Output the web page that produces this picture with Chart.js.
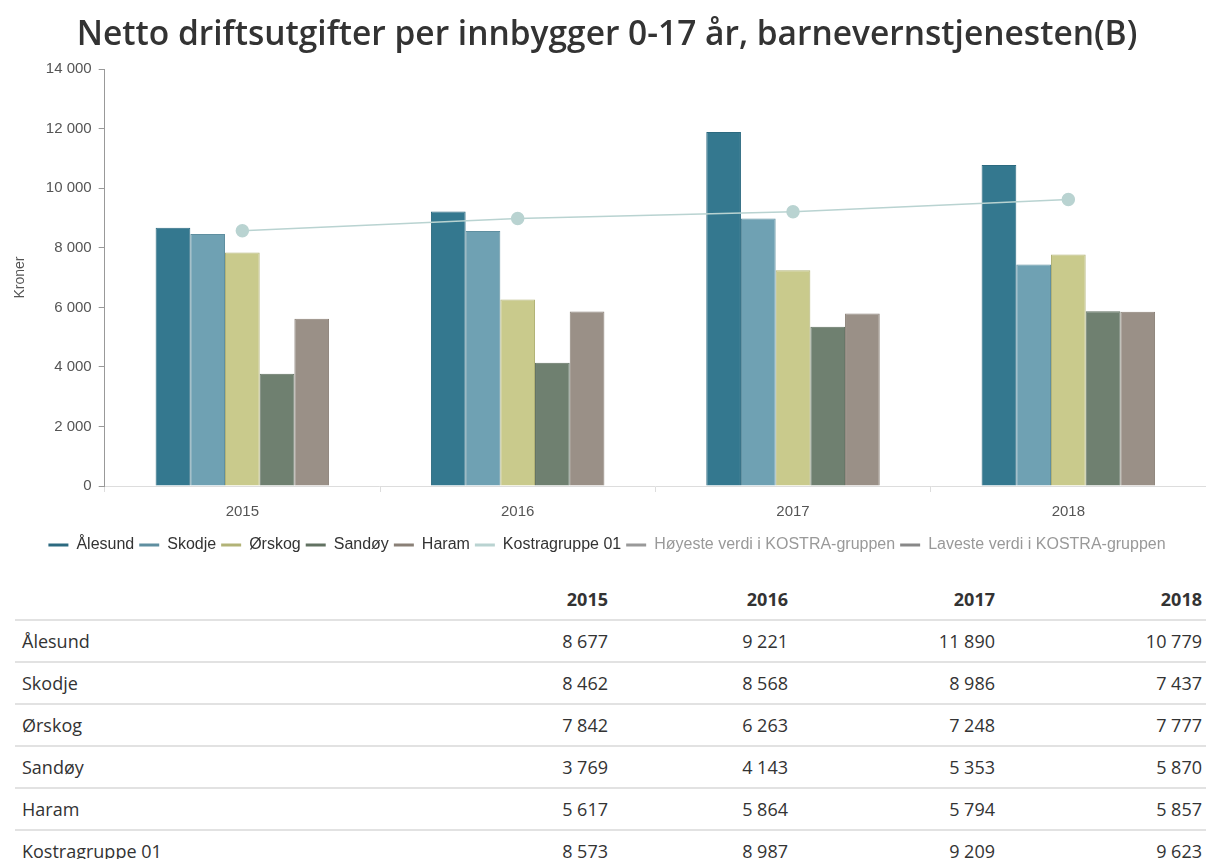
<!DOCTYPE html>
<html lang="no">
<head>
<meta charset="utf-8">
<script src="https://cdn.jsdelivr.net/npm/chart.js@4"></script>
<style>
  body { margin: 0; background: #fff; font-family: "Open Sans", sans-serif; color: #333; overflow: hidden; }
  #wrap { width: 1206px; height: 579px; position: relative; }
  table { border-collapse: collapse; margin-left: 15px; width: 1191px; table-layout: fixed; font-size: 18px; color: #333; }
  th, td { height: 40px; padding: 0 4px; border-bottom: 2px solid #e2e2e2; text-align: right; white-space: nowrap; }
  th { font-weight: 700; }
  td:first-child, th:first-child { text-align: left; padding-left: 7px; }
  tr:last-child td { border-bottom: none; }
</style>
</head>
<body>
<div id="wrap"><canvas id="chart"></canvas></div>
<table id="tbl"></table>
<script>
const years = ['2015', '2016', '2017', '2018'];
const alesund = [8677, 9221, 11890, 10779];
const skodje = [8462, 8568, 8986, 7437];
const orskog = [7842, 6263, 7248, 7777];
const sandoy = [3769, 4143, 5353, 5870];
const haram = [5617, 5864, 5794, 5857];
const kostra = [8573, 8987, 9209, 9623];
const hoyeste = [];
const laveste = [];

const fmt = v => String(v).replace(/\B(?=(\d{3})+(?!\d))/g, ' ');

const barSet = (label, data, fill, border) => ({
    type: 'bar', label, data,
    backgroundColor: fill, borderColor: border, borderWidth: 1,
    categoryPercentage: 0.63, barPercentage: 1, order: 2
});

const datasets = [
    barSet('Ålesund', alesund, '#34788f', '#2c6a80'),
    barSet('Skodje', skodje, '#6fa1b3', '#5f8fa0'),
    barSet('Ørskog', orskog, '#c9ca8c', '#b2b377'),
    barSet('Sandøy', sandoy, '#6f8070', '#627262'),
    barSet('Haram', haram, '#9a9087', '#8a8077'),
    {
        type: 'line', label: 'Kostragruppe 01', data: kostra,
        borderColor: '#b9d3d1', backgroundColor: '#b9d3d1',
        borderWidth: 1.5, pointRadius: 6, pointHoverRadius: 6, order: 1
    },
    { type: 'line', label: 'Høyeste verdi i KOSTRA-gruppen', data: hoyeste, borderColor: '#999', backgroundColor: '#999', hidden: true },
    { type: 'line', label: 'Laveste verdi i KOSTRA-gruppen', data: laveste, borderColor: '#888', backgroundColor: '#888', hidden: true }
];

const axisFont = { family: 'Liberation Sans', size: 15 };

new Chart(document.getElementById('chart'), {
    data: { labels: years, datasets },
    options: {
        responsive: true,
        maintainAspectRatio: false,
        animation: false,
        layout: { autoPadding: false, padding: { left: 8, right: 0, top: 0, bottom: 16 } },
        plugins: {
            title: {
                display: true,
                text: 'Netto driftsutgifter per innbygger 0-17 år, barnevernstjenesten(B)',
                font: { family: 'Open Sans', size: 33.5, weight: '600' },
                color: '#333',
                padding: { top: 15, bottom: 14 }
            },
            legend: {
                position: 'bottom',
                labels: {
                    font: { family: 'Liberation Sans', size: 16 },
                    boxWidth: 20,
                    boxHeight: 3,
                    padding: 5,
                    generateLabels: chart => chart.data.datasets.map((ds, i) => ({
                        text: ds.label,
                        fillStyle: ds.borderColor,
                        strokeStyle: ds.borderColor,
                        lineWidth: 0,
                        hidden: false,
                        fontColor: ds.hidden ? '#999' : '#333',
                        datasetIndex: i
                    }))
                }
            },
            tooltip: { enabled: false }
        },
        scales: {
            x: {
                grid: { display: true, drawOnChartArea: false, drawTicks: true, tickLength: 6, color: '#ddd', offset: true },
                border: { color: '#ddd', width: 1 },
                ticks: { color: '#555', font: axisFont, padding: 11 }
            },
            y: {
                min: 0, max: 14000,
                ticks: { stepSize: 2000, color: '#555', font: axisFont, padding: 7, callback: v => fmt(v) },
                grid: { display: true, drawOnChartArea: false, drawTicks: true, tickLength: 6, color: '#999' },
                border: { color: '#999', width: 1 },
                title: { display: true, text: 'Kroner', color: '#555', font: { family: 'Liberation Sans', size: 14 }, padding: { bottom: 10 } }
            }
        }
    }
});

// table under the chart
const rows = [
    ['Ålesund', alesund], ['Skodje', skodje], ['Ørskog', orskog],
    ['Sandøy', sandoy], ['Haram', haram], ['Kostragruppe 01', kostra]
];
const widths = [417, 180, 180, 207, 207];
let html = '<colgroup>' + widths.map(w => `<col style="width:${w}px">`).join('') + '</colgroup>';
html += '<tr><th></th>' + years.map(y => `<th>${y}</th>`).join('') + '</tr>';
rows.forEach(([name, vals]) => {
    html += `<tr><td>${name}</td>` + vals.map(v => `<td>${fmt(v)}</td>`).join('') + '</tr>';
});
document.getElementById('tbl').innerHTML = html;
</script>
</body>
</html>
